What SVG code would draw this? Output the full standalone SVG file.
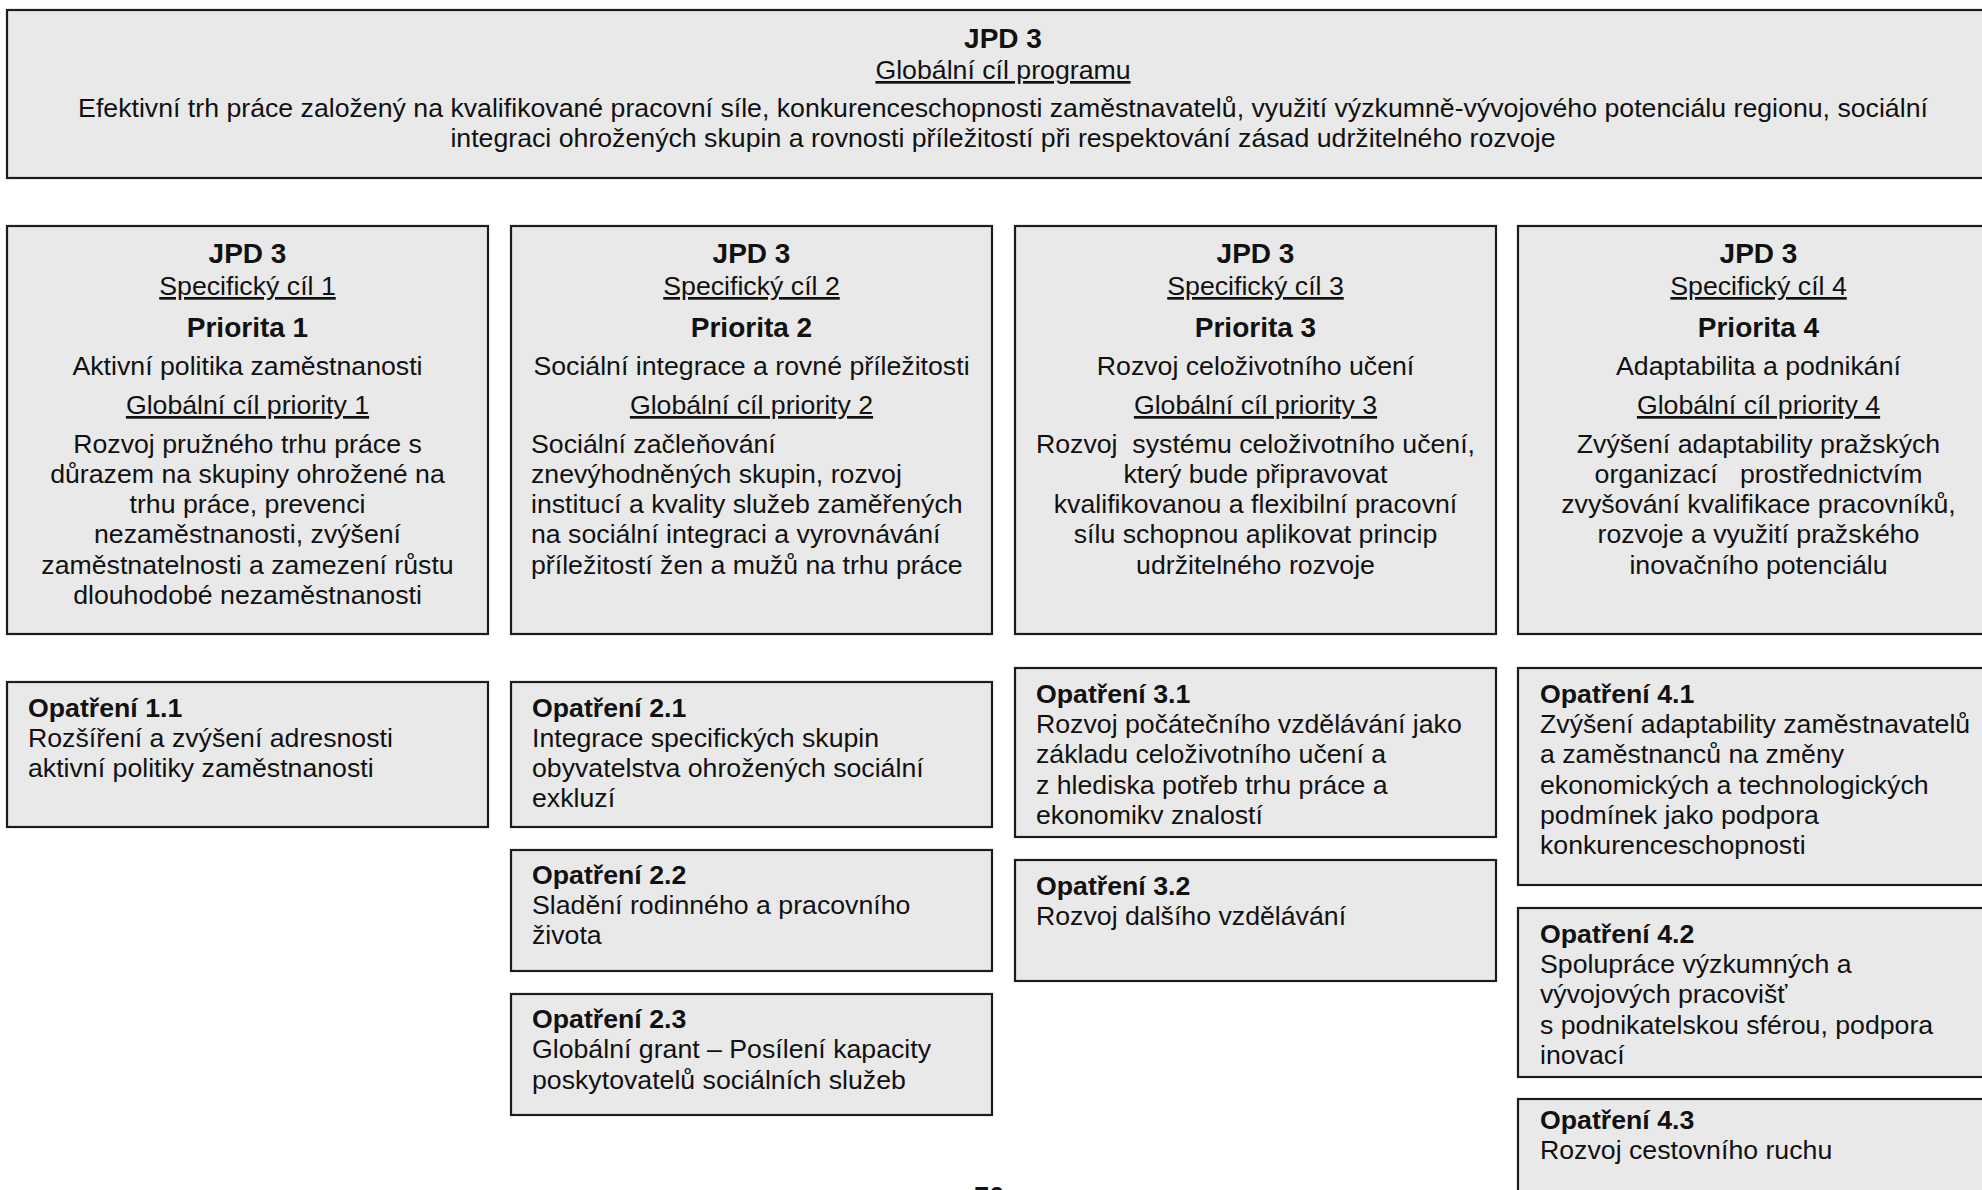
<svg xmlns="http://www.w3.org/2000/svg" width="1982" height="1190" viewBox="0 0 1982 1190">
<style>
.box{fill:#e9e9e9;stroke:#1c1c1c;stroke-width:2.2}
text{font-family:"Liberation Sans",Arial,sans-serif;fill:#111;font-size:26.7px}
.b{font-weight:bold;font-size:28px}
.ob{font-weight:bold;font-size:26.7px}
.c{text-anchor:middle}
.u{text-decoration:underline}
.pre{white-space:pre}
</style>
<rect width="1982" height="1190" fill="#fff"/>
<g id="goal">
<rect class="box" x="7" y="10" width="1992" height="168"/>
<text class="b c" x="1003" y="48">JPD 3</text>
<text class="c u" x="1003" y="79">Globální cíl programu</text>
<text class="c" x="1003" y="117">Efektivní trh práce založený na kvalifikované pracovní síle, konkurenceschopnosti zaměstnavatelů, využití výzkumně-vývojového potenciálu regionu, sociální</text>
<text class="c" x="1003" y="147">integraci ohrožených skupin a rovnosti příležitostí při respektování zásad udržitelného rozvoje</text>
</g>
<g id="priority1">
<rect class="box" x="7" y="226" width="481" height="408"/>
<text class="b c" x="247.5" y="263">JPD 3</text>
<text class="c u" x="247.5" y="295">Specifický cíl 1</text>
<text class="b c" x="247.5" y="337">Priorita 1</text>
<text class="c" x="247.5" y="375">Aktivní politika zaměstnanosti</text>
<text class="c u" x="247.5" y="414">Globální cíl priority 1</text>
<text class="c" x="247.5" y="453">Rozvoj pružného trhu práce s</text>
<text class="c" x="247.5" y="483">důrazem na skupiny ohrožené na</text>
<text class="c" x="247.5" y="513">trhu práce, prevenci</text>
<text class="c" x="247.5" y="543">nezaměstnanosti, zvýšení</text>
<text class="c" x="247.5" y="574">zaměstnatelnosti a zamezení růstu</text>
<text class="c" x="247.5" y="604">dlouhodobé nezaměstnanosti</text>
</g>
<g id="priority2">
<rect class="box" x="511" y="226" width="481" height="408"/>
<text class="b c" x="751.5" y="263">JPD 3</text>
<text class="c u" x="751.5" y="295">Specifický cíl 2</text>
<text class="b c" x="751.5" y="337">Priorita 2</text>
<text class="c" x="751.5" y="375">Sociální integrace a rovné příležitosti</text>
<text class="c u" x="751.5" y="414">Globální cíl priority 2</text>
<text x="531" y="453">Sociální začleňování</text>
<text x="531" y="483">znevýhodněných skupin, rozvoj</text>
<text x="531" y="513">institucí a kvality služeb zaměřených</text>
<text x="531" y="543">na sociální integraci a vyrovnávání</text>
<text x="531" y="574">příležitostí žen a mužů na trhu práce</text>
</g>
<g id="priority3">
<rect class="box" x="1015" y="226" width="481" height="408"/>
<text class="b c" x="1255.5" y="263">JPD 3</text>
<text class="c u" x="1255.5" y="295">Specifický cíl 3</text>
<text class="b c" x="1255.5" y="337">Priorita 3</text>
<text class="c" x="1255.5" y="375">Rozvoj celoživotního učení</text>
<text class="c u" x="1255.5" y="414">Globální cíl priority 3</text>
<text class="c pre" x="1255.5" y="453">Rozvoj  systému celoživotního učení,</text>
<text class="c" x="1255.5" y="483">který bude připravovat</text>
<text class="c" x="1255.5" y="513">kvalifikovanou a flexibilní pracovní</text>
<text class="c" x="1255.5" y="543">sílu schopnou aplikovat princip</text>
<text class="c" x="1255.5" y="574">udržitelného rozvoje</text>
</g>
<g id="priority4">
<rect class="box" x="1518" y="226" width="481" height="408"/>
<text class="b c" x="1758.5" y="263">JPD 3</text>
<text class="c u" x="1758.5" y="295">Specifický cíl 4</text>
<text class="b c" x="1758.5" y="337">Priorita 4</text>
<text class="c" x="1758.5" y="375">Adaptabilita a podnikání</text>
<text class="c u" x="1758.5" y="414">Globální cíl priority 4</text>
<text class="c" x="1758.5" y="453">Zvýšení adaptability pražských</text>
<text class="c pre" x="1758.5" y="483">organizací   prostřednictvím</text>
<text class="c" x="1758.5" y="513">zvyšování kvalifikace pracovníků,</text>
<text class="c" x="1758.5" y="543">rozvoje a využití pražského</text>
<text class="c" x="1758.5" y="574">inovačního potenciálu</text>
</g>
<g id="m11">
<rect class="box" x="7" y="682" width="481" height="145"/>
<text class="ob" x="28" y="717">Opatření 1.1</text>
<text x="28" y="747">Rozšíření a zvýšení adresnosti</text>
<text x="28" y="777">aktivní politiky zaměstnanosti</text>
</g>
<g id="m21">
<rect class="box" x="511" y="682" width="481" height="145"/>
<text class="ob" x="532" y="717">Opatření 2.1</text>
<text x="532" y="747">Integrace specifických skupin</text>
<text x="532" y="777">obyvatelstva ohrožených sociální</text>
<text x="532" y="807">exkluzí</text>
</g>
<g id="m22">
<rect class="box" x="511" y="850" width="481" height="121"/>
<text class="ob" x="532" y="884">Opatření 2.2</text>
<text x="532" y="914">Sladění rodinného a pracovního</text>
<text x="532" y="944">života</text>
</g>
<g id="m23">
<rect class="box" x="511" y="994" width="481" height="121"/>
<text class="ob" x="532" y="1028">Opatření 2.3</text>
<text x="532" y="1058">Globální grant – Posílení kapacity</text>
<text x="532" y="1089">poskytovatelů sociálních služeb</text>
</g>
<g id="m31">
<rect class="box" x="1015" y="668" width="481" height="169"/>
<text class="ob" x="1036" y="703">Opatření 3.1</text>
<text x="1036" y="733">Rozvoj počátečního vzdělávání jako</text>
<text x="1036" y="763">základu celoživotního učení a</text>
<text x="1036" y="794">z hlediska potřeb trhu práce a</text>
<text x="1036" y="824">ekonomikv znalostí</text>
</g>
<g id="m32">
<rect class="box" x="1015" y="860" width="481" height="121"/>
<text class="ob" x="1036" y="895">Opatření 3.2</text>
<text x="1036" y="925">Rozvoj dalšího vzdělávání</text>
</g>
<g id="m41">
<rect class="box" x="1518" y="668" width="481" height="217"/>
<text class="ob" x="1540" y="703">Opatření 4.1</text>
<text x="1540" y="733">Zvýšení adaptability zaměstnavatelů</text>
<text x="1540" y="763">a zaměstnanců na změny</text>
<text x="1540" y="794">ekonomických a technologických</text>
<text x="1540" y="824">podmínek jako podpora</text>
<text x="1540" y="854">konkurenceschopnosti</text>
</g>
<g id="m42">
<rect class="box" x="1518" y="908" width="481" height="169"/>
<text class="ob" x="1540" y="943">Opatření 4.2</text>
<text x="1540" y="973">Spolupráce výzkumných a</text>
<text x="1540" y="1003">vývojových pracovišť</text>
<text x="1540" y="1034">s podnikatelskou sférou, podpora</text>
<text x="1540" y="1064">inovací</text>
</g>
<g id="m43">
<rect class="box" x="1518" y="1099" width="481" height="140"/>
<text class="ob" x="1540" y="1129">Opatření 4.3</text>
<text x="1540" y="1159">Rozvoj cestovního ruchu</text>
</g>
<text class="ob c" x="989" y="1205">76</text>
</svg>
